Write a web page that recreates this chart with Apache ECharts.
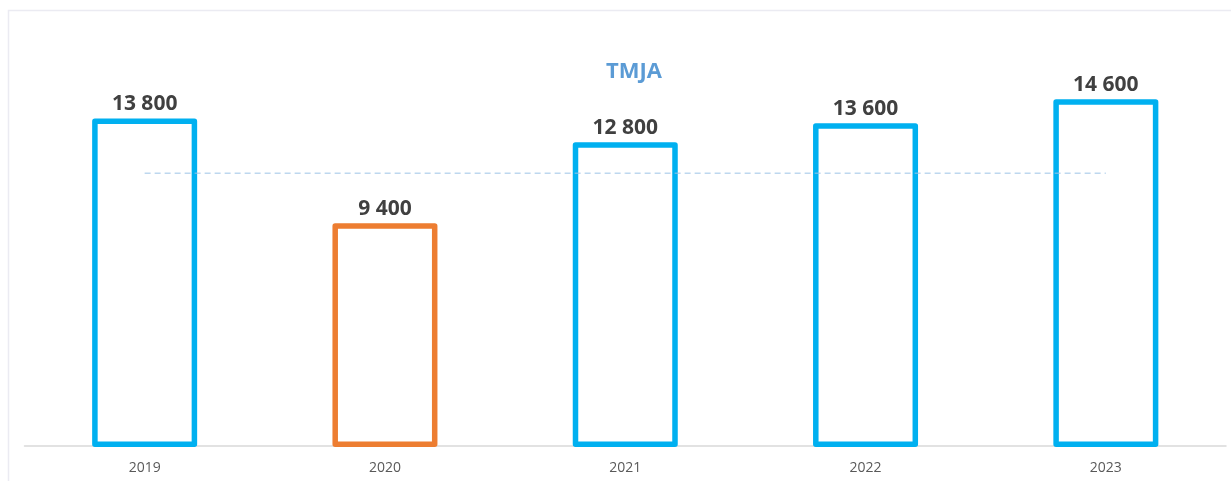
<!DOCTYPE html>
<html>
<head>
<meta charset="utf-8">
<script src="https://cdn.jsdelivr.net/npm/echarts@6/dist/echarts.min.js"></script>
<style>
  html, body { margin: 0; padding: 0; background: #fff; }
  #chart { width: 1231px; height: 481px; }
</style>
</head>
<body>
<div id="chart"></div>
<script>
  // données TMJA
  var years = ["2019", "2020", "2021", "2022", "2023"];
  var tmja = [13800, 9400, 12800, 13600, 14600];
  var barColors = ["#00B0F0", "#ED7D31", "#00B0F0", "#00B0F0", "#00B0F0"];
  var reference = [11500, 11500, 11500, 11500, 11500];

  var chart = echarts.init(document.getElementById("chart"));

  chart.setOption({
    animation: false,
    title: {
      text: "TMJA",
      left: 629,
      top: 56,
      textAlign: "center",
      textStyle: {
        color: "#5B9BD5",
        fontSize: 22,
        fontWeight: "bold",
        fontFamily: "Open Sans",
      },
    },
    graphic: [
      {
        type: "rect",
        shape: { x: 8.5, y: 10.5, width: 1240, height: 500 },
        style: { fill: "none", stroke: "#EBEBF2", lineWidth: 1.5 },
        silent: true,
        z: -10,
      },
    ],
    grid: {
      left: 24.5,
      right: 5,
      top: 66,
      bottom: 34,
    },
    xAxis: {
      type: "category",
      data: years,
      offset: -1,
      axisLine: { lineStyle: { color: "#D9D9D9", width: 1.5 } },
      axisTick: { show: false },
      axisLabel: {
        color: "#595959",
        fontSize: 14,
        fontFamily: "Open Sans",
        margin: 15,
      },
      z: 0,
    },
    yAxis: {
      type: "value",
      min: 0,
      max: 16000,
      show: false,
      splitLine: { show: false },
    },
    series: [
      {
        name: "TMJA",
        type: "bar",
        barWidth: 105,
        z: 3,
        data: tmja.map(function (v, i) {
          return {
            value: v,
            itemStyle: {
              color: "#fff",
              borderColor: barColors[i],
              borderWidth: 5.5,
              borderJoin: "round",
            },
          };
        }),
        label: {
          show: true,
          position: "top",
          distance: 4,
          color: "#404040",
          fontSize: 21,
          fontWeight: "bold",
          fontFamily: "Open Sans",
          formatter: function (p) {
            return String(p.value).replace(/\B(?=(\d{3})+(?!\d))/g, " ");
          },
        },
      },
      {
        name: "Référence",
        type: "line",
        data: reference,
        symbol: "none",
        z: 4,
        lineStyle: { color: "#9DC3E6", width: 1, type: [6, 4] },
      },
    ],
  });
</script>
</body>
</html>
